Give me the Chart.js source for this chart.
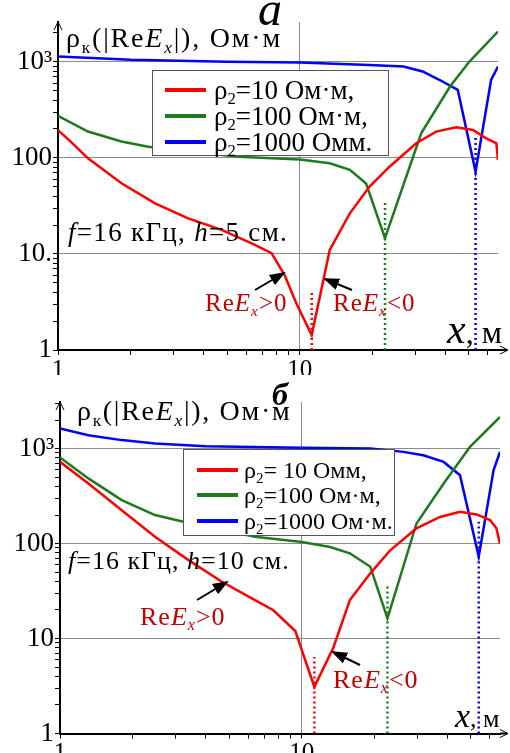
<!DOCTYPE html>
<html>
<head>
<meta charset="utf-8">
<script src="https://cdn.jsdelivr.net/npm/chart.js@4"></script>
<style>
body{margin:0;background:#fff}
#wrap{position:relative;width:510px;height:753px;overflow:hidden;font-family:"Liberation Serif","Times New Roman",serif}
canvas{position:absolute;left:0}
.t{position:absolute;white-space:nowrap;color:#000;line-height:1}
sub{font-size:0.62em;vertical-align:-0.32em;line-height:0}
.lg{position:absolute;background:#fff;border:1px solid #555;box-sizing:border-box;line-height:1}
.row{display:flex;align-items:center;white-space:nowrap}
.ln{display:inline-block;width:41px;height:4px;flex:none}
.re{color:#c00000}
svg{position:absolute;left:0;top:0}
</style>
</head>
<body>
<div id="wrap">
<canvas id="cA" width="510" height="375" style="top:0"></canvas>
<canvas id="cB" width="510" height="375" style="top:378px"></canvas>

<div class="t" style="left:258px;top:-15px;font-size:48px;font-style:italic">а</div>
<div class="t" style="left:66px;top:24px;font-size:28px;letter-spacing:1.8px">ρ<sub>к</sub>(|Re<i>E<sub>x</sub></i>|), Ом·м</div>
<div class="lg" style="left:152px;top:70px;width:237px;height:86px;font-size:27px;padding-top:6px">
  <div class="row" style="height:26px"><span class="ln" style="background:#ff0000;margin:0 8px 0 12px"></span><span>ρ<sub>2</sub>=10 Ом·м,</span></div>
  <div class="row" style="height:26px"><span class="ln" style="background:#1f7a1f;margin:0 8px 0 12px"></span><span>ρ<sub>2</sub>=100 Ом·м,</span></div>
  <div class="row" style="height:26px"><span class="ln" style="background:#0000ff;margin:0 8px 0 12px"></span><span>ρ<sub>2</sub>=1000 Омм.</span></div>
</div>
<div class="t" style="left:68px;top:219px;font-size:27px;letter-spacing:1.3px"><i>f</i>=16 кГц, <i>h</i>=5 см.</div>
<div class="t re" style="left:205px;top:290px;font-size:25px;letter-spacing:1px">Re<i>E<sub>x</sub></i>&gt;0</div>
<div class="t re" style="left:333px;top:290px;font-size:25px;letter-spacing:1px">Re<i>E<sub>x</sub></i>&lt;0</div>
<div class="t" style="left:447px;top:308px"><i style="font-size:42px">x</i><span style="font-size:32px">, м</span></div>

<div class="t" style="left:272px;top:378px;font-size:32px;font-style:italic;font-weight:bold">б</div>
<div class="t" style="left:77px;top:397px;font-size:28px;letter-spacing:1.7px">ρ<sub>к</sub>(|Re<i>E<sub>x</sub></i>|), Ом·м</div>
<div class="lg" style="left:183px;top:449px;width:212px;height:87px;font-size:24px;padding-top:7px">
  <div class="row" style="height:25.5px"><span class="ln" style="background:#ff0000;margin:0 6px 0 13px"></span><span>ρ<sub>2</sub>= 10 Омм,</span></div>
  <div class="row" style="height:25.5px"><span class="ln" style="background:#1f7a1f;margin:0 6px 0 13px"></span><span>ρ<sub>2</sub>=100 Ом·м,</span></div>
  <div class="row" style="height:25.5px"><span class="ln" style="background:#0000ff;margin:0 6px 0 13px"></span><span>ρ<sub>2</sub>=1000 Ом·м.</span></div>
</div>
<div class="t" style="left:68px;top:548px;font-size:26px;letter-spacing:1px"><i>f</i>=16 кГц, <i>h</i>=10 см.</div>
<div class="t re" style="left:140px;top:604px;font-size:26px;letter-spacing:1px">Re<i>E<sub>x</sub></i>&gt;0</div>
<div class="t re" style="left:333px;top:667px;font-size:26px;letter-spacing:1px">Re<i>E<sub>x</sub></i>&lt;0</div>
<div class="t" style="left:455px;top:699px"><i style="font-size:34px">x</i><span style="font-size:26px">, м</span></div>

<svg width="510" height="753">
<defs><marker id="ah" markerWidth="8" markerHeight="8" refX="7" refY="4" orient="auto"><path d="M0,1 L8,4 L0,7 z" fill="#000"/></marker></defs>
<g stroke="#000" stroke-width="2" marker-end="url(#ah)">
<line x1="255" y1="290" x2="284" y2="273"/>
<line x1="352" y1="290" x2="325" y2="279"/>
<line x1="197" y1="600" x2="227" y2="582"/>
<line x1="360" y1="665" x2="333" y2="652"/>
</g>
</svg>
</div>

<script>
// tick labels
const yTicks = [1, 10, 100, 1000];
const yLabelsA = ['1', '10.', '100', '10³'];
const yLabelsB = ['1', '10', '100', '10³'];
const xTicks = [1, 10];
const xLabels = ['1', '10'];

// panel а, h = 5 cm
const redAx = [1, 1.14, 1.33, 1.83, 2.52, 3.45, 4.75, 6.52, 7.64, 8.66, 9.67, 11.2, 13.3, 16.1, 19.4, 23.5, 30.3, 36.6, 44.4, 52, 59, 65, 66];
const redAy = [195, 144, 99, 54.5, 33.7, 23.5, 17.8, 12.4, 10.2, 6.0, 3.07, 1.43, 11, 26.5, 50, 81, 142, 188, 209, 195, 160, 142, 95];
const greenAx = [1, 1.33, 1.83, 2.36, 5.56, 10, 13.3, 16.1, 18.8, 22.5, 31.8, 41.8, 50.3, 66];
const greenAy = [274, 188, 148, 131, 103, 96, 88, 75, 54, 14.6, 181, 553, 1007, 2070];
const blueAx = [1, 2, 5, 10, 19.4, 26.8, 32.2, 37.9, 45, 53.3, 61.8, 66];
const blueAy = [1135, 1050, 1000, 985, 930, 895, 794, 647, 510, 72, 647, 895];
const dipAx = [11.2, 22.5, 53.3];
const dipAtop = [4.2, 35, 174];

// panel б, h = 10 cm
const redBx = [1, 1.31, 1.8, 2.47, 3.4, 4.67, 6.4, 7.6, 9.4, 11.27, 13.5, 15.8, 19.2, 23.2, 29.8, 37.3, 45.1, 52.8, 60, 63.8, 66];
const redBy = [726, 430, 225, 118, 67, 39.6, 25.4, 20, 12, 3.1, 8, 25.4, 48.6, 85, 145, 191, 216, 203, 177, 145, 99];
const greenBx = [1, 1.31, 1.8, 2.47, 3.24, 6.4, 10, 13.1, 15.8, 19.2, 22.6, 29.8, 38.6, 49.6, 66];
const greenBy = [807, 486, 287, 200, 170, 118, 104, 92, 79, 57, 16.3, 163, 430, 1045, 2160];
const blueBx = [1, 1.31, 1.8, 2.47, 4, 10, 19.2, 26.3, 31.8, 38.6, 45.1, 53.9, 62.1, 66];
const blueBy = [1632, 1387, 1230, 1135, 1062, 1020, 1005, 925, 852, 725, 525, 73, 594, 925];
const dipBx = [11.27, 22.6, 53.9];
const dipBtop = [6.4, 36.6, 170];

const RED = '#ff0000', GREEN = '#1f7a1f', BLUE = '#0000ff';
const FONT = '"Liberation Serif", "Times New Roman", serif';

function pts(xs, ys) { return xs.map((x, i) => ({x: x, y: ys[i]})); }

function nice(v) {
  if (!(v > 0)) return false;
  let e = Math.pow(10, Math.floor(Math.log10(v) + 1e-9));
  let m = v / e;
  return Math.abs(m - Math.round(m)) < 1e-6;
}

// axis arrows at the ends
const axisArrows = {
  id: 'axisArrows',
  afterDraw(chart) {
    let ctx = chart.ctx, a = chart.chartArea;
    ctx.save();
    ctx.strokeStyle = '#000';
    ctx.lineWidth = 2;
    ctx.beginPath();
    ctx.moveTo(a.right, a.bottom); ctx.lineTo(507, a.bottom);
    ctx.stroke();
    ctx.lineWidth = 1;
    ctx.beginPath();
    ctx.moveTo(500, a.bottom - 4); ctx.lineTo(508, a.bottom); ctx.lineTo(500, a.bottom + 4);
    ctx.moveTo(a.left - 4, a.top + 8); ctx.lineTo(a.left, a.top); ctx.lineTo(a.left + 4, a.top + 8);
    ctx.stroke();
    ctx.restore();
  }
};

function makeChart(id, s, o) {
  let dips = s.dipX.map((x, i) => ({
    data: [{x: x, y: 1}, {x: x, y: s.dipTop[i]}],
    borderColor: [RED, GREEN, BLUE][i],
    borderWidth: 2.5,
    borderDash: [2, 3],
    pointRadius: 0
  }));
  return new Chart(document.getElementById(id), {
    type: 'line',
    data: {
      datasets: [
        {data: pts(s.rx, s.ry), borderColor: RED, borderWidth: 2.5, pointRadius: 0},
        {data: pts(s.gx, s.gy), borderColor: GREEN, borderWidth: 2.5, pointRadius: 0},
        {data: pts(s.bx, s.by), borderColor: BLUE, borderWidth: 2.5, pointRadius: 0}
      ].concat(dips)
    },
    options: {
      responsive: false,
      animation: false,
      devicePixelRatio: 1,
      layout: {padding: {top: o.top, right: o.right, left: 0, bottom: 0}},
      plugins: {legend: {display: false}, tooltip: {enabled: false}},
      elements: {line: {tension: 0}},
      scales: {
        x: {
          type: 'logarithmic',
          min: 1, max: 66,
          afterFit: sc => { sc.height = o.xh; },
          border: {color: '#000', width: 2},
          grid: {
            color: c => (c.tick && c.tick.value === 10) ? '#8c8c8c' : 'rgba(0,0,0,0)',
            tickColor: c => (c.tick && nice(c.tick.value)) ? '#000' : 'rgba(0,0,0,0)',
            tickLength: 5,
            lineWidth: 1
          },
          ticks: {
            autoSkip: false, maxRotation: 0, padding: 0, color: '#000',
            font: {family: FONT, size: 25},
            callback: v => { let i = xTicks.indexOf(v); return i < 0 ? '' : xLabels[i]; }
          }
        },
        y: {
          type: 'logarithmic',
          min: 1, max: o.ymax,
          afterFit: sc => { sc.width = o.yw; },
          border: {color: '#000', width: 2},
          grid: {
            color: c => (c.tick && [10, 100, 1000].includes(c.tick.value)) ? '#8c8c8c' : 'rgba(0,0,0,0)',
            tickColor: c => (c.tick && nice(c.tick.value)) ? '#000' : 'rgba(0,0,0,0)',
            tickLength: 5,
            lineWidth: 1
          },
          ticks: {
            autoSkip: false, padding: 1, color: '#000',
            font: {family: FONT, size: 27},
            callback: v => { let i = yTicks.indexOf(v); return i < 0 ? '' : o.ylabels[i]; }
          }
        }
      }
    },
    plugins: [axisArrows]
  });
}

makeChart('cA',
  {rx: redAx, ry: redAy, gx: greenAx, gy: greenAy, bx: blueAx, by: blueAy, dipX: dipAx, dipTop: dipAtop},
  {top: 22, right: 12, xh: 25, yw: 58, ymax: 2600, ylabels: yLabelsA});

makeChart('cB',
  {rx: redBx, ry: redBy, gx: greenBx, gy: greenBy, bx: blueBx, by: blueBy, dipX: dipBx, dipTop: dipBtop},
  {top: 24, right: 10, xh: 19.5, yw: 60, ymax: 3100, ylabels: yLabelsB});
</script>
</body>
</html>
